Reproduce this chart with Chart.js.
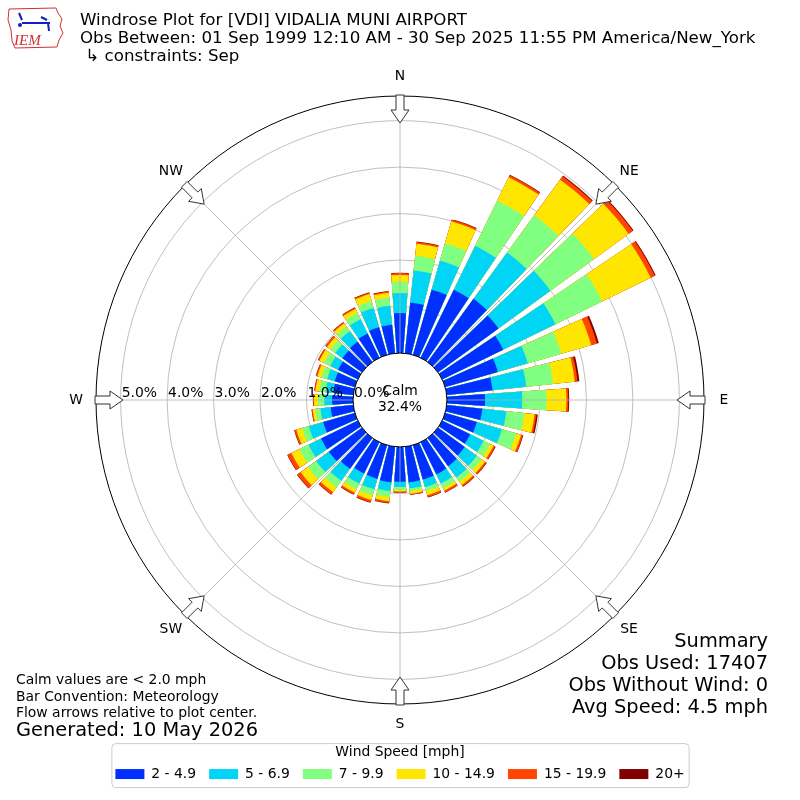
<!DOCTYPE html>
<html><head><meta charset="utf-8">
<script src="https://cdn.jsdelivr.net/npm/chart.js@4.4.0/dist/chart.umd.min.js"></script>
<style>html,body{margin:0;padding:0;background:#fff}canvas{display:block}</style>
</head><body>
<canvas id="c" width="800" height="800"></canvas>
<script>
// ---------------- data ----------------
const DIRECTIONS = [0,10,20,30,40,50,60,70,80,90,100,110,120,130,140,150,160,170,180,190,200,210,220,230,240,250,260,270,280,290,300,310,320,330,340,350];
const SPEED_BINS = ['2 - 4.9','5 - 6.9','7 - 9.9','10 - 14.9','15 - 19.9','20+'];
const BIN_COLORS = ['#0030ff','#00d5f5','#80ff80','#ffe600','#ff4500','#800000'];
// percent of observations per direction for each speed bin
const PCT_2_5   = [0.86,1.10,1.46,1.63,1.68,1.61,1.46,1.18,0.99,0.82,0.77,0.71,0.67,0.71,0.75,0.77,0.77,0.77,0.75,0.77,0.75,0.75,0.82,0.88,0.88,0.71,0.49,0.45,0.43,0.45,0.47,0.52,0.54,0.58,0.62,0.62];
const PCT_5_7   = [0.43,0.69,0.65,1.05,1.23,1.38,1.25,0.67,0.73,0.80,0.52,0.56,0.32,0.32,0.30,0.22,0.17,0.13,0.11,0.19,0.24,0.24,0.32,0.34,0.30,0.32,0.22,0.17,0.17,0.17,0.19,0.19,0.28,0.34,0.43,0.41];
const PCT_7_10  = [0.24,0.32,0.39,1.08,0.99,1.16,1.12,0.75,0.58,0.52,0.39,0.32,0.15,0.13,0.11,0.11,0.09,0.06,0.06,0.13,0.13,0.13,0.17,0.22,0.22,0.15,0.11,0.13,0.13,0.13,0.15,0.13,0.13,0.15,0.15,0.17];
const PCT_10_15 = [0.15,0.26,0.49,0.56,0.95,0.92,1.16,0.67,0.47,0.43,0.22,0.11,0.09,0.09,0.09,0.06,0.09,0.06,0.04,0.09,0.11,0.09,0.13,0.19,0.19,0.13,0.06,0.09,0.09,0.09,0.11,0.09,0.08,0.10,0.16,0.11];
const PCT_15_20 = [0.04,0.04,0.04,0.05,0.09,0.11,0.10,0.13,0.06,0.04,0.04,0.04,0.04,0.04,0.04,0.04,0.04,0.02,0.02,0.04,0.05,0.04,0.06,0.09,0.09,0.04,0.02,0.02,0.02,0.03,0.03,0.04,0.03,0.03,0.03,0.03];
const PCT_20_UP = [0.01,0.01,0.01,0.01,0.02,0.02,0.02,0.04,0.04,0.02,0.03,0.01,0.01,0.01,0.01,0.01,0.01,0.005,0.005,0.01,0.01,0.01,0.01,0.01,0.01,0.01,0.005,0.005,0.005,0.006,0.006,0.006,0.005,0.01,0.01,0.01];
const RING_TICKS = [0,1,2,3,4,5];
const COMPASS_NAMES = ['N','NE','E','SE','S','SW','W','NW'];
const COMPASS_ANGLES = [0,45,90,135,180,225,270,315];
const CALM_PCT = '32.4%';
const HEADER = ['Windrose Plot for [VDI] VIDALIA MUNI AIRPORT',
  'Obs Between: 01 Sep 1999 12:10 AM - 30 Sep 2025 11:55 PM America/New_York',
  ' \u21B3 constraints: Sep'];
const NOTES = ['Calm values are < 2.0 mph','Bar Convention: Meteorology','Flow arrows relative to plot center.'];
const GENERATED = 'Generated: 10 May 2026';
const SUMMARY = ['Summary','Obs Used: 17407','Obs Without Wind: 0','Avg Speed: 4.5 mph'];

// ---------------- chart setup ----------------
const FONT = 'DejaVu Sans';
Chart.defaults.font.family = FONT;
Chart.defaults.color = '#000';
const R_MIN = -1.01, R_MAX = 5.53;
const BAR_DEG = 8, GAP_DEG = 2;
const SERIES = [PCT_2_5, PCT_5_7, PCT_7_10, PCT_10_15, PCT_15_20, PCT_20_UP];

const labels = [];
DIRECTIONS.forEach(d => { labels.push(d + '\u00b0'); labels.push(''); });
let running = DIRECTIONS.map(() => 0);
const datasets = SERIES.map((arr, k) => {
  running = running.map((v, i) => v + arr[i]);
  const data = [];
  running.forEach(v => { data.push(v); data.push(0); });
  return {
    label: SPEED_BINS[k],
    data,
    backgroundColor: c => (c.dataIndex % 2 ? 'rgba(0,0,0,0)' : BIN_COLORS[k]),
    borderWidth: 0,
    angle: c => (c.dataIndex % 2 ? GAP_DEG : BAR_DEG)
  };
});

function polar(cx, cy, r, deg) {
  const t = deg * Math.PI / 180;
  return [cx + r * Math.sin(t), cy - r * Math.cos(t)];
}

const decor = {
  id: 'decor',
  afterDraw(chart) {
    const ctx = chart.ctx;
    const s = chart.scales.r;
    const cx = s.xCenter, cy = s.yCenter;
    const r0 = s.getDistanceFromCenterForValue(0);
    const rMax = s.getDistanceFromCenterForValue(s.max);
    ctx.save();
    // compass spokes
    ctx.strokeStyle = '#b0b0b0'; ctx.lineWidth = 0.8;
    COMPASS_ANGLES.forEach(a => {
      const p1 = polar(cx, cy, r0, a), p2 = polar(cx, cy, rMax, a);
      ctx.beginPath(); ctx.moveTo(p1[0], p1[1]); ctx.lineTo(p2[0], p2[1]); ctx.stroke();
    });
    // calm circle
    ctx.beginPath(); ctx.arc(cx, cy, r0, 0, Math.PI * 2);
    ctx.fillStyle = '#fff'; ctx.fill();
    ctx.strokeStyle = '#000'; ctx.lineWidth = 1; ctx.stroke();
    ctx.fillStyle = '#000';
    ctx.font = '13.9px "' + FONT + '"';
    ctx.textAlign = 'center'; ctx.textBaseline = 'middle';
    ctx.fillText('Calm', cx, cy - 9);
    ctx.fillText(CALM_PCT, cx, cy + 7);
    // ring labels
    ctx.textAlign = 'left'; ctx.textBaseline = 'alphabetic';
    RING_TICKS.forEach(v => {
      const r = s.getDistanceFromCenterForValue(v);
      ctx.fillText(v.toFixed(1) + '%', cx - r + 1, cy - 3);
    });
    // arrows
    COMPASS_ANGLES.forEach(a => {
      const t = a * Math.PI / 180;
      const ux = -Math.sin(t), uy = Math.cos(t);
      const vx = Math.cos(t), vy = Math.sin(t);
      const base = polar(cx, cy, rMax + 1, a);
      const pts = [[0,-4],[15,-4],[15,-9],[28,0],[15,9],[15,4],[0,4]];
      ctx.beginPath();
      pts.forEach((p, i) => {
        const x = base[0] + p[0] * ux + p[1] * vx, y = base[1] + p[0] * uy + p[1] * vy;
        if (i === 0) ctx.moveTo(x, y); else ctx.lineTo(x, y);
      });
      ctx.closePath();
      ctx.fillStyle = '#fff'; ctx.fill();
      ctx.strokeStyle = '#333'; ctx.lineWidth = 1; ctx.stroke();
    });
    // compass labels
    ctx.fillStyle = '#000';
    ctx.textAlign = 'center'; ctx.textBaseline = 'middle';
    COMPASS_ANGLES.forEach((a, i) => {
      const p = polar(cx, cy, rMax + 20, a);
      ctx.fillText(COMPASS_NAMES[i], p[0], p[1]);
    });
    // header
    ctx.textAlign = 'left'; ctx.textBaseline = 'alphabetic';
    ctx.font = '16.67px "' + FONT + '"';
    HEADER.forEach((t, i) => ctx.fillText(t, 80, 25 + i * 18));
    // notes
    ctx.font = '13.9px "' + FONT + '"';
    NOTES.forEach((t, i) => ctx.fillText(t, 16, 684 + i * 16.5));
    ctx.font = '19.4px "' + FONT + '"';
    ctx.fillText(GENERATED, 16, 736);
    ctx.textAlign = 'right';
    SUMMARY.forEach((t, i) => ctx.fillText(t, 768, 647 + i * 22));
    // legend frame
    const lg = chart.legend;
    if (lg && lg.legendHitBoxes && lg.legendHitBoxes.length) {
      const hb = lg.legendHitBoxes;
      const x1 = hb[0].left - 4, x2 = hb[hb.length - 1].left + hb[hb.length - 1].width + 4;
      const y1 = lg.top + 39, y2 = lg.top + 83;
      ctx.strokeStyle = '#cccccc'; ctx.lineWidth = 1;
      ctx.beginPath();
      if (ctx.roundRect) ctx.roundRect(x1 + 0.5, y1 + 0.5, x2 - x1, y2 - y1, 4); else ctx.rect(x1, y1, x2 - x1, y2 - y1);
      ctx.stroke();
    }
    // logo
    ctx.strokeStyle = '#d03030'; ctx.lineWidth = 1;
    ctx.beginPath();
    [[9,9],[56,8],[58,13],[62,19],[60,26],[63,33],[59,40],[57,47],[15,48],[12,41],[11,30],[8,20]].forEach((p,i)=>{ if(i) ctx.lineTo(p[0],p[1]); else ctx.moveTo(p[0],p[1]); });
    ctx.closePath(); ctx.stroke();
    ctx.strokeStyle = '#1020c0'; ctx.lineWidth = 2;
    ctx.beginPath(); ctx.moveTo(22, 23); ctx.lineTo(50, 23); ctx.stroke();
    ctx.beginPath(); ctx.moveTo(19, 13); ctx.lineTo(22, 20); ctx.stroke();
    ctx.beginPath(); ctx.moveTo(41, 17); ctx.lineTo(47, 20); ctx.stroke();
    ctx.beginPath(); ctx.moveTo(48, 23); ctx.lineTo(49, 31); ctx.stroke();
    ctx.fillStyle = '#1020c0';
    ctx.beginPath(); ctx.arc(20, 25, 2, 0, Math.PI * 2); ctx.fill();
    ctx.fillStyle = '#d03030';
    ctx.font = 'italic 15px "Liberation Serif"';
    ctx.textAlign = 'left';
    ctx.fillText('IEM', 14, 45);
    ctx.restore();
  }
};

new Chart(document.getElementById('c'), {
  type: 'polarArea',
  data: { labels, datasets },
  options: {
    responsive: false,
    animation: false,
    layout: { padding: { left: 40, right: 40, top: 96, bottom: 9 } },
    scales: {
      r: {
        min: R_MIN, max: R_MAX,
        startAngle: -BAR_DEG / 2,
        z: 1,
        ticks: { display: false },
        angleLines: { display: false },
        pointLabels: { display: false },
        grid: {
          circular: true,
          color: c => (c.tick && c.tick.value >= R_MAX - 1e-9 ? '#000' : '#b0b0b0'),
          lineWidth: c => (c.tick && c.tick.value >= R_MAX - 1e-9 ? 1 : 0.8)
        },
        afterBuildTicks: sc => { sc.ticks = RING_TICKS.map(v => ({ value: v })).concat([{ value: sc.max }]); }
      }
    },
    plugins: {
      tooltip: { enabled: false },
      legend: {
        position: 'bottom',
        onClick: null,
        title: { display: true, text: 'Wind Speed [mph]', font: { size: 13.9 }, color: '#000', padding: { top: 41, bottom: -7.7 } },
        labels: {
          boxWidth: 29, boxHeight: 10, padding: 13, font: { size: 13.9 }, color: '#000',
          generateLabels: chart => chart.data.datasets.map((d, i) => ({
            text: d.label, fillStyle: BIN_COLORS[i], strokeStyle: BIN_COLORS[i], lineWidth: 0, hidden: false, datasetIndex: i
          }))
        }
      }
    }
  },
  plugins: [decor]
});
</script>
</body></html>
